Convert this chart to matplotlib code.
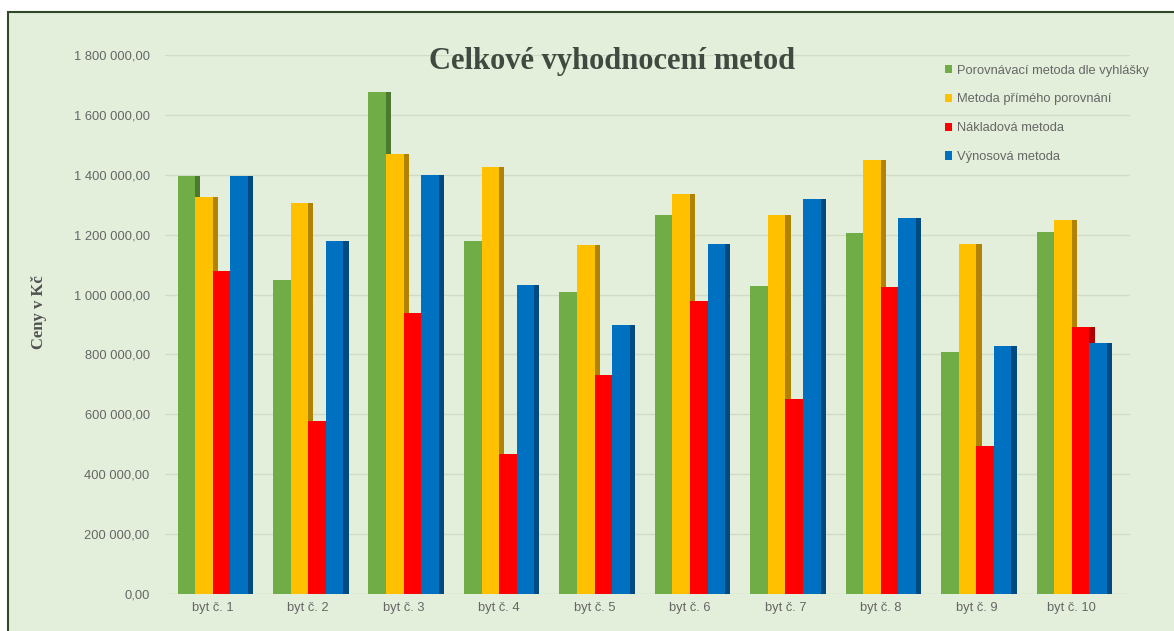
import matplotlib.pyplot as plt
from matplotlib.patches import Rectangle
import numpy as np

categories = ['byt č. 1', 'byt č. 2', 'byt č. 3', 'byt č. 4', 'byt č. 5',
              'byt č. 6', 'byt č. 7', 'byt č. 8', 'byt č. 9', 'byt č. 10']
series_names = ['Porovnávací metoda dle vyhlášky', 'Metoda přímého porovnání',
                'Nákladová metoda', 'Výnosová metoda']
porovnavaci = [1395000, 1050000, 1675000, 1180000, 1010000, 1265000, 1030000, 1205000, 807000, 1210000]
prime = [1325000, 1305000, 1470000, 1425000, 1165000, 1335000, 1265000, 1448000, 1170000, 1248000]
nakladova = [1080000, 578000, 938000, 468000, 733000, 978000, 650000, 1025000, 495000, 890000]
vynosova = [1395000, 1178000, 1398000, 1033000, 898000, 1170000, 1320000, 1257000, 828000, 837000]
yticks = [0, 200000, 400000, 600000, 800000, 1000000, 1200000, 1400000, 1600000, 1800000]

values = [porovnavaci, prime, nakladova, vynosova]
front_colors = ['#70ad47', '#ffc000', '#ff0000', '#0070c0']
side_colors = ['#4b7a2e', '#b08400', '#b00000', '#004a80']

bg = '#e3efdb'
fig = plt.figure(figsize=(11.74, 6.31), dpi=100)
fig.patch.set_facecolor('white')
fig.patches.append(Rectangle((8 / 1174, -0.1), 1.2, 1 - 12 / 631 + 0.1,
                             transform=fig.transFigure, facecolor=bg,
                             edgecolor='#2f4a2a', linewidth=1.5, zorder=-10))

ax = fig.add_axes([165 / 1174, 37 / 631, 965 / 1174, 539 / 631])
ax.set_facecolor('none')

x = np.arange(len(categories))
w = 0.184
side = 0.055
for k, vals in enumerate(values):
    pos = x + (k - 1.5) * w
    # side face of the pseudo-3D bar
    ax.bar(pos + w / 2 + side / 2, vals, width=side, color=side_colors[k], zorder=2 + k * 2)
    ax.bar(pos, vals, width=w, color=front_colors[k], label=series_names[k], zorder=3 + k * 2)

ax.set_xlim(-0.5, 9.61)
ax.set_ylim(0, 1800000)
ax.set_yticks(yticks)
ax.set_yticklabels([f'{v:,.2f}'.replace(',', ' ').replace('.', ',') for v in yticks],
                   fontsize=9.3, color='#666666', family='Liberation Sans')
ax.set_xticks(x)
ax.set_xticklabels(categories, fontsize=9.3, color='#666666', family='Liberation Sans')
ax.tick_params(length=0, pad=11, axis='y')
ax.tick_params(length=0, pad=6, axis='x')
ax.grid(axis='y', color='#cfdcc6', linewidth=1, zorder=0)
ax.set_axisbelow(True)
for s in ax.spines.values():
    s.set_visible(False)

fig.text(612 / 1174, 1 - 62 / 631, 'Celkové vyhodnocení metod', ha='center', va='center',
         fontsize=22, fontweight='bold', family='Liberation Serif', color='#404a40')
fig.text(39 / 1174, 1 - 312 / 631, 'Ceny v Kč', rotation=90, ha='center', va='center',
         fontsize=12, fontweight='bold', family='Liberation Serif', color='#505050')

leg = ax.legend(loc='upper left', bbox_to_anchor=(768 / 965, 1 + 2 / 539), frameon=False,
                labelcolor='#666666', handlelength=0.6, handleheight=0.6,
                handletextpad=0.35, labelspacing=1.3, prop={'family': 'Liberation Sans', 'size': 9.3})

fig.savefig('out.png', dpi=100, facecolor=fig.get_facecolor())
